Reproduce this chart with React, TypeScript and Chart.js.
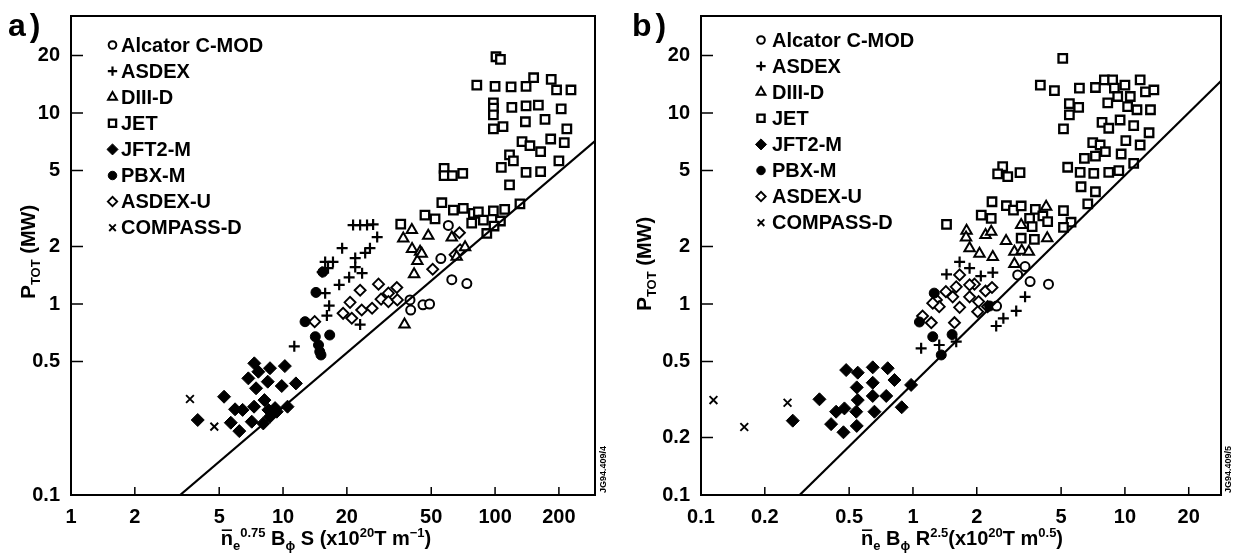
import React, { useEffect, useRef } from 'react';
import { Chart, registerables } from 'chart.js';
import { drawPoint } from 'chart.js/helpers';

Chart.register(...registerables);

const FONT = '"Liberation Sans", Arial, Helvetica, sans-serif';

// ---------- tick labels ----------
const xTicksA = [1, 2, 5, 10, 20, 50, 100, 200];
const yTicksA = [0.1, 0.5, 1, 2, 5, 10, 20];
const xTicksB = [0.1, 0.2, 0.5, 1, 2, 5, 10, 20];
const yTicksB = [0.1, 0.2, 0.5, 1, 2, 5, 10, 20];

const seriesNames = ['Alcator C-MOD', 'ASDEX', 'DIII-D', 'JET', 'JFT2-M', 'PBX-M', 'ASDEX-U', 'COMPASS-D'];

// ---------- panel a data ----------
const alcA_x = [39.7, 40.0, 45.7, 49.1, 55.5, 60.2, 62.5, 73.6];
const alcA_y = [1.05, 0.93, 0.99, 1.0, 1.73, 2.58, 1.34, 1.28];

const asdA_x = [11.3, 15.8, 16.5, 16.1, 18.4, 20.5, 23.6, 23.1, 21.4, 23.1, 24.9, 26.6, 27.8, 25.7, 24.4, 19.0, 15.8, 17.2, 21.9, 21.9, 15.3, 16.3];
const asdA_y = [0.60, 1.14, 0.98, 0.87, 1.26, 1.38, 1.45, 0.78, 2.59, 2.59, 2.59, 2.61, 2.24, 1.96, 1.85, 1.96, 1.66, 1.66, 1.74, 1.56, 1.47, 1.54];

const diiiA_x = [40.5, 36.9, 48.4, 40.6, 44.3, 43.0, 41.5, 37.4, 62.5, 65.9, 72.2, 45.1];
const diiiA_y = [2.44, 2.20, 2.28, 1.94, 1.88, 1.68, 1.43, 0.78, 2.23, 1.77, 1.98, 1.83];

const jetA_x = [101, 106, 82.0, 100, 119, 140, 152, 184, 195, 228, 98.2, 98.2, 98.2, 120, 140, 160, 205, 98.2, 109, 139, 172, 218, 134, 146, 164, 183, 212, 117, 122, 107, 140, 164, 200, 117, 57.5, 57.5, 62.9, 70.4, 56.1, 63.6, 70.8, 46.7, 52.1, 35.9, 79.0, 83.4, 77.6, 88.1, 98.2, 111, 106, 131, 91.4, 98.9];
const jetA_y = [19.7, 19.1, 14.0, 13.8, 13.7, 13.8, 15.3, 15.0, 13.2, 13.2, 11.3, 10.6, 9.77, 10.7, 10.9, 11.0, 10.5, 8.25, 8.48, 9.0, 9.27, 8.25, 7.08, 6.74, 6.27, 7.31, 6.99, 6.03, 5.62, 5.19, 4.89, 4.93, 5.62, 4.20, 5.13, 4.70, 4.70, 4.83, 3.39, 3.10, 3.17, 2.92, 2.79, 2.62, 2.98, 3.04, 2.65, 2.75, 3.07, 3.13, 2.72, 3.34, 2.34, 2.56];

const jftA_x = [3.96, 5.27, 5.67, 6.22, 5.94, 6.45, 6.86, 7.12, 7.30, 7.46, 7.32, 7.65, 8.17, 8.47, 8.68, 8.07, 8.68, 8.53, 9.17, 9.86, 10.2, 10.5, 11.5, 9.34];
const jftA_y = [0.247, 0.327, 0.239, 0.216, 0.281, 0.279, 0.408, 0.242, 0.290, 0.362, 0.489, 0.442, 0.314, 0.392, 0.461, 0.237, 0.257, 0.279, 0.285, 0.372, 0.473, 0.290, 0.384, 0.273];

const pbxA_x = [12.7, 14.2, 16.6, 14.7, 14.9, 15.1, 14.3, 15.4];
const pbxA_y = [0.808, 0.674, 0.688, 0.610, 0.563, 0.541, 1.15, 1.47];

const asduA_x = [14.1, 19.2, 20.7, 21.1, 23.1, 23.5, 26.3, 28.2, 29.0, 31.4, 31.4, 34.4, 34.6, 50.8, 67.9, 64.8, 68.4];
const asduA_y = [0.808, 0.894, 1.02, 0.842, 1.18, 0.93, 0.95, 1.27, 1.06, 1.14, 1.03, 1.22, 1.05, 1.52, 2.36, 1.81, 1.92];

const cmpA_x = [3.64, 4.74];
const cmpA_y = [0.318, 0.228];

const fitA_x = [3.27, 296];
const fitA_y = [0.1, 7.13];

// ---------- panel b data ----------
const alcB_x = [3.38, 3.12, 3.57, 4.36, 2.48];
const alcB_y = [1.57, 1.42, 1.31, 1.27, 0.976];

const asdB_x = [1.093, 1.33, 1.60, 1.44, 2.09, 1.66, 1.85, 2.38, 3.38, 3.07, 2.67, 2.47];
const asdB_y = [0.586, 0.610, 0.635, 1.43, 1.40, 1.66, 1.54, 1.46, 1.09, 0.92, 0.841, 0.767];

const diiiB_x = [1.79, 1.78, 2.20, 2.34, 1.85, 2.06, 2.38, 2.75, 3.24, 4.25, 4.30, 3.01, 3.26, 3.52, 3.01];
const diiiB_y = [2.42, 2.23, 2.30, 2.39, 1.96, 1.83, 1.76, 2.14, 2.59, 3.23, 2.21, 1.88, 1.90, 1.88, 1.62];

const jetB_x = [5.09, 3.99, 4.65, 6.10, 7.26, 8.00, 8.75, 8.92, 10.0, 9.25, 10.6, 11.8, 12.5, 13.7, 5.47, 5.47, 6.05, 8.30, 10.3, 11.4, 13.2, 5.13, 7.80, 8.39, 9.49, 11.0, 13.0, 7.05, 7.64, 8.09, 10.1, 11.8, 6.44, 7.26, 9.60, 11.0, 5.37, 6.15, 7.13, 8.39, 9.36, 6.21, 7.26, 6.68, 5.13, 5.57, 5.13, 2.65, 2.51, 2.80, 3.20, 2.36, 2.76, 2.98, 3.24, 3.78, 3.55, 4.10, 4.32, 3.65, 2.10, 2.34, 3.24, 3.74, 1.44];
const jetB_y = [19.3, 14.0, 13.1, 13.5, 13.6, 14.9, 14.9, 13.5, 14.0, 12.2, 12.2, 14.9, 12.9, 13.2, 11.2, 9.77, 10.7, 11.3, 10.8, 10.4, 10.4, 8.25, 8.94, 8.32, 9.19, 8.58, 7.88, 6.99, 6.80, 6.27, 7.16, 6.80, 5.79, 5.95, 6.10, 5.45, 5.20, 4.89, 4.83, 4.89, 4.99, 4.11, 3.87, 3.34, 3.08, 2.68, 2.52, 5.24, 4.80, 4.64, 4.87, 3.43, 3.27, 3.10, 3.26, 3.13, 2.81, 2.89, 2.70, 2.54, 2.92, 2.81, 2.21, 2.18, 2.61];

const jftB_x = [0.271, 0.362, 0.411, 0.434, 0.475, 0.470, 0.484, 0.549, 0.543, 0.549, 0.540, 0.543, 0.646, 0.646, 0.646, 0.658, 0.760, 0.748, 0.818, 0.885, 0.980];
const jftB_y = [0.245, 0.317, 0.235, 0.273, 0.284, 0.213, 0.451, 0.437, 0.366, 0.314, 0.273, 0.230, 0.466, 0.387, 0.330, 0.273, 0.461, 0.330, 0.400, 0.288, 0.377];

const pbxB_x = [1.073, 1.24, 1.36, 1.53, 1.26, 2.30];
const pbxB_y = [0.805, 0.674, 0.541, 0.692, 1.14, 0.976];

const asduB_x = [1.66, 1.95, 2.20, 2.36, 1.85, 2.04, 1.66, 1.57, 1.29, 1.11, 1.22, 1.33, 1.43, 1.54, 2.02, 2.25, 1.24, 1.60, 1.85];
const asduB_y = [1.42, 1.27, 1.17, 1.22, 1.09, 1.03, 0.961, 0.798, 1.05, 0.865, 0.798, 0.968, 1.16, 1.09, 0.911, 0.968, 1.01, 1.23, 1.26];

const cmpB_x = [0.1145, 0.160, 0.256];
const cmpB_y = [0.314, 0.227, 0.304];

const fitB_x = [0.292, 28.4];
const fitB_y = [0.1, 14.7];

// ---------- marker styles (one per series) ----------
const markerStyles = [
  { pointStyle: 'circle', radius: 4.5, fill: '#fff', bw: 2 },
  { pointStyle: 'cross', radius: 5.5, fill: '#000', bw: 2.2 },
  { pointStyle: 'triangle', radius: 6, fill: '#fff', bw: 2 },
  { pointStyle: 'rect', radius: 6, fill: '#fff', bw: 2.3 },
  { pointStyle: 'rectRot', radius: 6.5, fill: '#000', bw: 1 },
  { pointStyle: 'circle', radius: 5, fill: '#000', bw: 1 },
  { pointStyle: 'rectRot', radius: 5.5, fill: '#fff', bw: 1.9 },
  { pointStyle: 'crossRot', radius: 5.5, fill: '#000', bw: 1.9 },
];

const zip = (xs: number[], ys: number[]) => xs.map((x, i) => ({ x, y: ys[i] }));

type Run = { t: string; size: number; dy?: number; bar?: boolean };

function drawRuns(ctx: CanvasRenderingContext2D, runs: Run[], cx: number, base: number) {
  const widths = runs.map((r) => {
    ctx.font = `bold ${r.size}px ${FONT}`;
    return ctx.measureText(r.t).width;
  });
  const total = widths.reduce((a, b) => a + b, 0);
  let x = cx - total / 2;
  ctx.textAlign = 'left';
  ctx.textBaseline = 'alphabetic';
  runs.forEach((r, i) => {
    ctx.font = `bold ${r.size}px ${FONT}`;
    ctx.fillText(r.t, x, base + (r.dy || 0));
    if (r.bar) ctx.fillRect(x + 1, base - r.size * 0.78, widths[i] - 2, 1.6);
    x += widths[i];
  });
}

const W = 617;
const H = 558;

type PanelCfg = {
  xMin: number; xMax: number; yMin: number; yMax: number;
  xTicks: number[]; yTicks: number[];
  left: number; right: number;
  series: { x: number[]; y: number[] }[];
  fit: { x: number[]; y: number[] };
  legX: number; legTX: number; legY0: number; legDy: number;
  yTitle: { x: number; y: number };
  xTitle: { x: number; y: number; runs: Run[] };
  label: { t: string; x: number; y: number };
  code: { t: string; x: number; y: number };
};

const panelA: PanelCfg = {
  xMin: 1, xMax: 296, yMin: 0.1, yMax: 32.2,
  xTicks: xTicksA, yTicks: yTicksA,
  left: 71, right: 595,
  series: [
    { x: alcA_x, y: alcA_y }, { x: asdA_x, y: asdA_y }, { x: diiiA_x, y: diiiA_y }, { x: jetA_x, y: jetA_y },
    { x: jftA_x, y: jftA_y }, { x: pbxA_x, y: pbxA_y }, { x: asduA_x, y: asduA_y }, { x: cmpA_x, y: cmpA_y },
  ],
  fit: { x: fitA_x, y: fitA_y },
  legX: 112.5, legTX: 121, legY0: 45, legDy: 26.1,
  yTitle: { x: 28, y: 252 },
  xTitle: {
    x: 326, y: 545,
    runs: [
      { t: 'n', size: 20, bar: true }, { t: 'e', size: 13, dy: 5 }, { t: '0.75', size: 13, dy: -8 },
      { t: ' B', size: 20 }, { t: 'ϕ', size: 13, dy: 5 }, { t: ' S (x10', size: 20 }, { t: '20', size: 13, dy: -8 },
      { t: 'T m', size: 20 }, { t: '−1', size: 13, dy: -8 }, { t: ')', size: 20 },
    ],
  },
  label: { t: 'a)', x: 8, y: 36 },
  code: { t: 'JG94.409/4', x: 603, y: 493 },
};

const panelB: PanelCfg = {
  xMin: 0.1, xMax: 28.4, yMin: 0.1, yMax: 32.2,
  xTicks: xTicksB, yTicks: yTicksB,
  left: 84, right: 604,
  series: [
    { x: alcB_x, y: alcB_y }, { x: asdB_x, y: asdB_y }, { x: diiiB_x, y: diiiB_y }, { x: jetB_x, y: jetB_y },
    { x: jftB_x, y: jftB_y }, { x: pbxB_x, y: pbxB_y }, { x: asduB_x, y: asduB_y }, { x: cmpB_x, y: cmpB_y },
  ],
  fit: { x: fitB_x, y: fitB_y },
  legX: 144, legTX: 155, legY0: 40, legDy: 26.1,
  yTitle: { x: 27, y: 264 },
  xTitle: {
    x: 345, y: 545,
    runs: [
      { t: 'n', size: 20, bar: true }, { t: 'e', size: 13, dy: 5 }, { t: ' B', size: 20 }, { t: 'ϕ', size: 13, dy: 5 },
      { t: ' R', size: 20 }, { t: '2.5', size: 13, dy: -8 }, { t: '(x10', size: 20 }, { t: '20', size: 13, dy: -8 },
      { t: 'T m', size: 20 }, { t: '0.5', size: 13, dy: -8 }, { t: ')', size: 20 },
    ],
  },
  label: { t: 'b)', x: 15, y: 36 },
  code: { t: 'JG94.409/5', x: 611, y: 493 },
};

function fmt(v: number) {
  return String(Number(v.toPrecision(3)));
}

function buildConfig(cfg: PanelCfg): any {
  const pointSets = cfg.series.map((s, i) => {
    const m = markerStyles[i];
    return {
      label: seriesNames[i],
      data: zip(s.x, s.y),
      showLine: false,
      pointStyle: m.pointStyle,
      pointRadius: m.radius,
      pointHoverRadius: m.radius,
      pointBackgroundColor: m.fill,
      pointBorderColor: '#000',
      pointBorderWidth: m.bw,
      pointHoverBorderWidth: m.bw,
    };
  });
  const fitSet = {
    label: 'fit',
    data: zip(cfg.fit.x, cfg.fit.y),
    showLine: true,
    borderColor: '#000',
    borderWidth: 2.2,
    pointRadius: 0,
    pointHoverRadius: 0,
  };

  const decor = {
    id: 'decor',
    afterDraw(chart: any) {
      const { ctx, chartArea: ca, scales } = chart;
      ctx.save();
      ctx.strokeStyle = '#000';
      ctx.fillStyle = '#000';
      ctx.lineWidth = 2;
      ctx.strokeRect(ca.left, ca.top, ca.right - ca.left, ca.bottom - ca.top);
      ctx.lineWidth = 1.5;
      ctx.beginPath();
      cfg.xTicks.forEach((v) => {
        const px = scales.x.getPixelForValue(v);
        ctx.moveTo(px, ca.bottom);
        ctx.lineTo(px, ca.bottom - 8);
      });
      cfg.yTicks.forEach((v) => {
        const py = scales.y.getPixelForValue(v);
        ctx.moveTo(ca.left, py);
        ctx.lineTo(ca.left + 12, py);
      });
      ctx.stroke();

      // legend
      seriesNames.forEach((name, i) => {
        const m = markerStyles[i];
        const y = cfg.legY0 + i * cfg.legDy;
        ctx.fillStyle = m.fill;
        ctx.strokeStyle = '#000';
        ctx.lineWidth = m.bw;
        drawPoint(ctx, { pointStyle: m.pointStyle as any, radius: m.radius * 0.85, borderWidth: m.bw, rotation: 0 }, cfg.legX, y);
        ctx.fillStyle = '#000';
        ctx.font = `bold 20px ${FONT}`;
        ctx.textAlign = 'left';
        ctx.textBaseline = 'middle';
        ctx.fillText(name, cfg.legTX, y + 1);
      });

      // axis titles
      ctx.fillStyle = '#000';
      drawRuns(ctx, cfg.xTitle.runs, cfg.xTitle.x, cfg.xTitle.y);
      ctx.save();
      ctx.translate(cfg.yTitle.x + 7, cfg.yTitle.y);
      ctx.rotate(-Math.PI / 2);
      drawRuns(ctx, [
        { t: 'P', size: 21 }, { t: 'TOT', size: 13, dy: 5 }, { t: ' (MW)', size: 20 },
      ], 0, 0);
      ctx.restore();

      // panel label
      ctx.font = `bold 32px ${FONT}`;
      ctx.textAlign = 'left';
      ctx.textBaseline = 'alphabetic';
      (ctx as any).letterSpacing = '4px';
      ctx.fillText(cfg.label.t, cfg.label.x, cfg.label.y);
      (ctx as any).letterSpacing = '0px';

      // reference code
      ctx.save();
      ctx.translate(cfg.code.x + 3, cfg.code.y);
      ctx.rotate(-Math.PI / 2);
      ctx.font = `bold 9px ${FONT}`;
      ctx.textAlign = 'left';
      ctx.textBaseline = 'alphabetic';
      ctx.fillText(cfg.code.t, 0, 0);
      ctx.restore();
      ctx.restore();
    },
  };

  const tickFont = { family: FONT, size: 20, weight: 'bold' as const };

  return {
    type: 'scatter',
    data: { datasets: [fitSet, ...pointSets] },
    options: {
      responsive: false,
      animation: false,
      devicePixelRatio: 1,
      events: [],
      layout: { padding: { left: 0, top: 16, right: W - cfg.right, bottom: 0 } },
      plugins: { legend: { display: false }, tooltip: { enabled: false } },
      scales: {
        x: {
          type: 'logarithmic',
          min: cfg.xMin,
          max: cfg.xMax,
          grid: { display: false },
          border: { display: false },
          afterBuildTicks: (s: any) => { s.ticks = cfg.xTicks.map((v) => ({ value: v })); },
          afterFit: (s: any) => { s.height = H - 495; },
          ticks: { autoSkip: false, maxRotation: 0, padding: 2, color: '#000', font: tickFont, callback: (v: any) => fmt(Number(v)) },
        },
        y: {
          type: 'logarithmic',
          min: cfg.yMin,
          max: cfg.yMax,
          grid: { display: false },
          border: { display: false },
          afterBuildTicks: (s: any) => { s.ticks = cfg.yTicks.map((v) => ({ value: v })); },
          afterFit: (s: any) => { s.width = cfg.left; },
          ticks: { autoSkip: false, padding: 3, color: '#000', font: tickFont, callback: (v: any) => fmt(Number(v)) },
        },
      },
    },
    plugins: [decor],
  };
}

function Panel({ cfg, left }: { cfg: PanelCfg; left: number }) {
  const ref = useRef<HTMLCanvasElement>(null);
  useEffect(() => {
    const chart = new Chart(ref.current as HTMLCanvasElement, buildConfig(cfg));
    return () => chart.destroy();
  }, []);
  return (
    <canvas
      ref={ref}
      width={W}
      height={H}
      style={{ position: 'absolute', left, top: 0, width: W, height: H }}
    />
  );
}

export default function App() {
  return (
    <div style={{ position: 'absolute', left: 0, top: 0, width: 1234, height: 558, background: '#fff', overflow: 'hidden' }}>
      <Panel cfg={panelA} left={0} />
      <Panel cfg={panelB} left={W} />
    </div>
  );
}
